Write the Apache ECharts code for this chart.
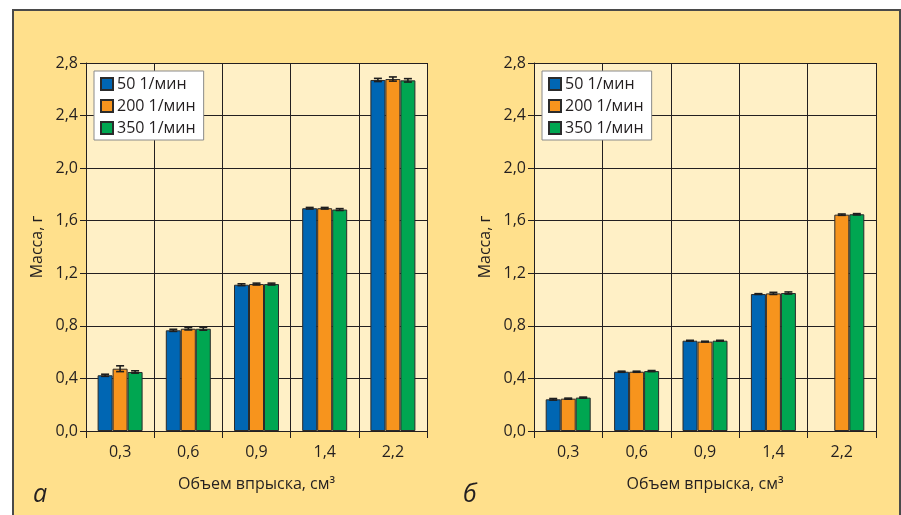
<!DOCTYPE html>
<html>
<head>
<meta charset="utf-8">
<script src="https://cdn.jsdelivr.net/npm/echarts@6/dist/echarts.min.js"></script>
<style>
  html, body { margin: 0; padding: 0; background: #ffffff; }
  #wrap { position: relative; width: 901px; height: 515px; overflow: hidden; }
  #panel { position: absolute; left: 12px; top: 9px; width: 885px; height: 600px;
           background: #FFE08C; border: 2px solid #4a4a4a; }
  #chart { position: absolute; left: 0; top: 0; width: 901px; height: 515px; }
</style>
</head>
<body>
<div id="wrap">
  <div id="panel"></div>
  <div id="chart"></div>
</div>
<script>
// Injection volumes (cm³) and rotation speeds
const categories = ['0,3', '0,6', '0,9', '1,4', '2,2'];
const seriesNames = ['50 1/мин', '200 1/мин', '350 1/мин'];
const colors = ['#0066B3', '#F7941D', '#00A651'];
const yTicks = [0, 0.4, 0.8, 1.2, 1.6, 2.0, 2.4, 2.8];

// Panel а: mass, g
const massA50  = [0.424, 0.766, 1.113, 1.695, 2.671];
const massA200 = [0.474, 0.778, 1.118, 1.695, 2.678];
const massA350 = [0.449, 0.778, 1.118, 1.685, 2.668];
const errA50   = [0.008, 0.008, 0.007, 0.006, 0.012];
const errA200  = [0.022, 0.009, 0.007, 0.006, 0.016];
const errA350  = [0.009, 0.011, 0.007, 0.007, 0.013];

// Panel б: mass, g (no 50 1/мин value at 2,2)
const massB50  = [0.241, 0.451, 0.687, 1.042, null];
const massB200 = [0.246, 0.451, 0.680, 1.047, 1.646];
const massB350 = [0.254, 0.456, 0.687, 1.050, 1.649];
const errB50   = [0.006, 0.004, 0.003, 0.003, null];
const errB200  = [0.004, 0.004, 0.003, 0.008, 0.005];
const errB350  = [0.004, 0.004, 0.003, 0.008, 0.005];

const FONT = 'Open Sans';
const INK = '#231F20';
const BAR_W = 15;

const chart = echarts.init(document.getElementById('chart'), null, { renderer: 'canvas' });

function fmt(v) { return v.toFixed(1).replace('.', ','); }

function xAxisFor(gi) {
  return {
    type: 'category', gridIndex: gi, data: categories,
    axisLine: { lineStyle: { color: INK, width: 1 } },
    axisTick: { show: true, length: 7, lineStyle: { color: INK } },
    axisLabel: { color: INK, fontSize: 16, fontFamily: FONT, margin: 13 },
    splitLine: { show: true, lineStyle: { color: INK, width: 1 } },
    name: 'Объем впрыска, см³', nameLocation: 'middle', nameGap: 45,
    nameTextStyle: { color: INK, fontSize: 16, fontFamily: FONT }
  };
}
function yAxisFor(gi) {
  return {
    type: 'value', gridIndex: gi, min: 0, max: yTicks[yTicks.length - 1], interval: 0.4,
    axisLine: { show: true, lineStyle: { color: INK, width: 1 } },
    axisTick: { show: true, length: 6, lineStyle: { color: INK } },
    axisLabel: { color: INK, fontSize: 16, fontFamily: FONT, margin: 8, formatter: fmt },
    splitLine: { show: true, lineStyle: { color: INK, width: 1 } },
    name: 'Масса, г', nameLocation: 'middle', nameGap: 41,
    nameTextStyle: { color: INK, fontSize: 16, fontFamily: FONT }
  };
}

function barSeries(name, data, color, gi) {
  return {
    type: 'bar', name: name, data: data, xAxisIndex: gi, yAxisIndex: gi,
    barWidth: BAR_W, barGap: '0%',
    itemStyle: { color: color, borderColor: '#2b2b2b', borderWidth: 1 },
    z: 3
  };
}

// Error whiskers drawn over each bar of a group
function errorSeries(values, errs, slot, gi) {
  const data = values.map((v, i) => (v == null ? [i, null, null] : [i, v, errs[i]]));
  return {
    type: 'custom', xAxisIndex: gi, yAxisIndex: gi, z: 5, silent: true,
    data: data,
    encode: { x: 0, y: 1 },
    renderItem: function (params, api) {
      const v = api.value(1);
      if (v == null || isNaN(v)) return;
      const e = api.value(2);
      const c = api.coord([api.value(0), v]);
      const x = c[0] + (slot - 1) * BAR_W;
      const top = api.coord([api.value(0), v + e])[1];
      const bot = api.coord([api.value(0), v - e])[1];
      const hw = 4;
      const st = { stroke: '#1e1e1e', lineWidth: 1.6 };
      return {
        type: 'group',
        children: [
          { type: 'line', shape: { x1: x, y1: top, x2: x, y2: bot }, style: st },
          { type: 'line', shape: { x1: x - hw, y1: top, x2: x + hw, y2: top }, style: st },
          { type: 'line', shape: { x1: x - hw, y1: bot, x2: x + hw, y2: bot }, style: st }
        ]
      };
    }
  };
}

function legendFor(left) {
  return {
    orient: 'vertical', left: left, top: 71, data: seriesNames,
    icon: 'rect', itemWidth: 12, itemHeight: 12, itemGap: 6,
    backgroundColor: '#ffffff', borderColor: '#8a8a8a', borderWidth: 1,
    padding: [5, 8, 4, 6],
    textStyle: { color: INK, fontSize: 16, fontFamily: FONT, lineHeight: 16, padding: [0, 0, 0, -1] },
    selectedMode: false
  };
}

const setsA = [massA50, massA200, massA350];
const errsA = [errA50, errA200, errA350];
const setsB = [massB50, massB200, massB350];
const errsB = [errB50, errB200, errB350];

const series = [];
for (let s = 0; s < 3; s++) series.push(barSeries(seriesNames[s], setsA[s], colors[s], 0));
for (let s = 0; s < 3; s++) series.push(barSeries(seriesNames[s], setsB[s], colors[s], 1));
for (let s = 0; s < 3; s++) series.push(errorSeries(setsA[s], errsA[s], s, 0));
for (let s = 0; s < 3; s++) series.push(errorSeries(setsB[s], errsB[s], s, 1));

chart.setOption({
  backgroundColor: 'transparent',
  animation: false,
  textStyle: { fontFamily: FONT },
  grid: [
    { left: 86, top: 63, width: 341, height: 368, show: true, backgroundColor: '#FFF0C6', borderWidth: 0 },
    { left: 534, top: 63, width: 342, height: 368, show: true, backgroundColor: '#FFF0C6', borderWidth: 0 }
  ],
  xAxis: [xAxisFor(0), xAxisFor(1)],
  yAxis: [yAxisFor(0), yAxisFor(1)],
  legend: [legendFor(94), legendFor(542)],
  graphic: [
    { type: 'text', left: 33, top: 482, style: { text: 'а', fill: INK, font: 'italic 25px "Open Sans"' } },
    { type: 'text', left: 463, top: 482, style: { text: 'б', fill: INK, font: 'italic 25px "Open Sans"' } }
  ],
  series: series
});
</script>
</body>
</html>
